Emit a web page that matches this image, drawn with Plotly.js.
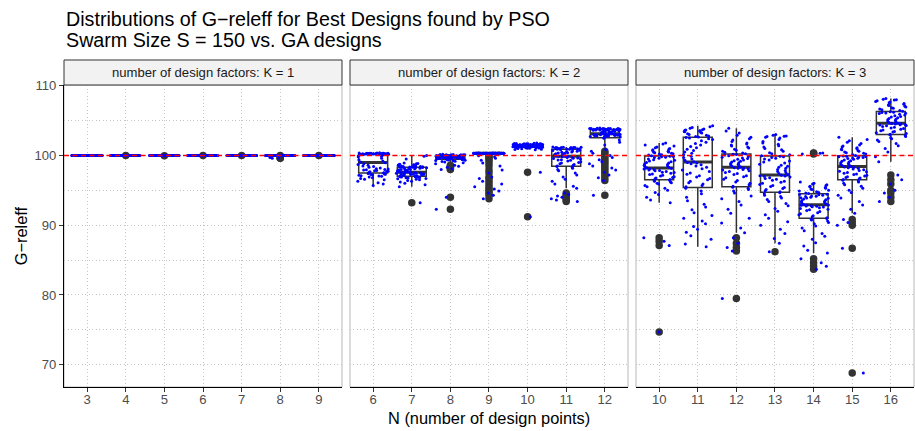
<!DOCTYPE html>
<html><head><meta charset="utf-8">
<script src="https://cdn.plot.ly/plotly-3.0.1.min.js"></script>
<style>html,body{margin:0;padding:0;background:#fff}#chart{width:915px;height:431px}</style>
</head><body><div id="chart"></div>
<script>
// ---------------- data ----------------
const K1_N = [3, 4, 5, 6, 7, 8, 9];
const K2_N = [6, 7, 8, 9, 10, 11, 12];
const K3_N = [10, 11, 12, 13, 14, 15, 16];
const FACET_LABELS = ["number of design factors: K = 1", "number of design factors: K = 2", "number of design factors: K = 3"];
const Y_TICKS = [70, 80, 90, 100, 110];
const REF_VALUE = 100;

// K = 1
const K1_N3 = [100,100,100,100,100,100,100,100,100,100, 100,100,100,100,100,100,100,100,100,100,
  100,100,100,100,100,100,100,100,100,100, 100,100,100,100,100,100,100,100,100,100, 100,100,100,100,100,100,100,100,100,100];
const K1_N4 = [100,100,100,100,100,100,100,100,100,100, 100,100,100,100,100,100,100,100,100,100,
  100,100,100,100,100,100,100,100,100,100, 100,100,100,100,100,100,100,100,100,100, 100,100,100,100,100,100,100,100,100,99.98];
const K1_N5 = [100,100,100,100,100,100,100,100,100,100, 100,100,100,100,100,100,100,100,100,100,
  100,100,100,100,100,100,100,100,100,100, 100,100,100,100,100,100,100,100,100,100, 100,100,100,100,100,100,100,100,100,99.97];
const K1_N6 = [100,100,100,100,100,100,100,100,100,100, 100,100,100,100,100,100,100,100,100,100,
  100,100,100,100,100,100,100,100,100,100, 100,100,100,100,100,100,100,100,100,100, 100,100,100,100,100,100,100,100,100,99.98];
const K1_N7 = [100,100,100,100,100,100,100,100,100,100, 100,100,100,100,100,100,100,100,100,100,
  100,100,100,100,100,100,100,100,100,100, 100,100,100,100,100,100,100,100,100,100, 100,100,100,100,100,100,100,100,100,99.98];
const K1_N8 = [100,100,100,100,100,100,100,100,100,100, 100,100,100,100,100,100,100,100,100,100,
  100,100,100,100,100,100,100,100,100,100, 100,100,100,100,100,100,100,100,100,100, 100,100,100,100,100,100,99.98,99.7,99.62,99.58];
const K1_N9 = [100,100,100,100,100,100,100,100,100,100, 100,100,100,100,100,100,100,100,100,100,
  100,100,100,100,100,100,100,100,100,100, 100,100,100,100,100,100,100,100,100,100, 100,100,100,100,100,100,100,100,100,99.98];

// K = 2
const K2_N6 = [95.7,95.9,96.1,96.3,96.5,96.6,96.7,96.8,96.9,97.0,97.05,97.1,97.15,97.2,97.25,97.3,97.35,97.4,97.45,97.48,
  97.52,97.6,97.65,97.7,97.75,97.8,97.85,97.9,97.95,98.0,98.05,98.1,98.2,98.3,98.4,98.5,98.6,98.7,98.8,98.95,
  99.05,99.2,99.4,99.6,99.8,99.9,100.0,100.05,100.1,100.12,100.14,100.16,100.17,100.18,100.19,100.2,100.2,100.2,100.21,100.22,
  100.22,100.23,100.24,100.25,100.25,100.26,100.27,100.27,100.28,100.28,100.29,100.3,100.3,100.31,100.31,100.32,100.33,100.34,100.35,100.37];
const K2_N7 = [93.2,95.5,95.8,96.0,96.2,96.3,96.4,96.5,96.6,96.65,96.7,96.75,96.8,96.85,96.88,96.9,96.93,96.95,96.97,96.99,
  97.01,97.05,97.1,97.15,97.2,97.22,97.25,97.28,97.3,97.33,97.36,97.4,97.43,97.46,97.5,97.52,97.54,97.56,97.58,97.59,
  97.61,97.65,97.7,97.74,97.78,97.82,97.86,97.9,97.94,97.98,98.0,98.04,98.08,98.12,98.16,98.2,98.23,98.26,98.28,98.3,
  98.31,98.34,98.37,98.4,98.43,98.46,98.5,98.53,98.56,98.6,98.63,98.66,98.7,98.75,98.8,98.85,98.9,99.5,99.9,100.0];
const K2_N8 = [92.3,94.0,98.0,98.1,98.3,98.45,98.6,98.8,98.95,99.05,99.12,99.18,99.24,99.28,99.32,99.36,99.39,99.41,99.43,99.44,
  99.46,99.48,99.5,99.52,99.54,99.56,99.58,99.6,99.62,99.64,99.66,99.67,99.68,99.69,99.7,99.71,99.72,99.73,99.74,99.75,
  99.76,99.77,99.78,99.79,99.8,99.81,99.82,99.83,99.84,99.85,99.86,99.87,99.88,99.89,99.9,99.91,99.92,99.93,99.94,99.95,
  99.96,99.97,99.98,99.99,100.0,100.0,100.01,100.02,100.03,100.04,100.05,100.06,100.07,100.08,100.09,100.1,100.11,100.12,100.14,100.16];
const K2_N9 = [93.8,94.3,94.6,94.9,95.2,95.5,95.9,96.3,96.7,96.9,97.5,97.9,98.5,98.9,99.3,99.6,99.8,99.95,
  100.3,100.3,100.3,100.3,100.3,100.3,100.3,100.3,100.3,100.3,100.3,100.3,100.3,100.3,100.3,100.3,100.3,100.3,100.3,100.3,100.3,100.3,
  100.3,100.3,100.3,100.3,100.3,100.3,100.3,100.3,100.3,100.3,100.3,100.3,100.3,100.3,100.3,100.3,100.3,100.3,100.3,100.3,100.3,
  100.3,100.3,100.3,100.3,100.3,100.3,100.3,100.3,100.3,100.3,100.3,100.3,100.3,100.3,100.3,100.3,100.3,100.3,100.3];
const K2_N10 = [91.2,97.6,100.8,100.85,100.9,100.95,101.0,101.02,101.05,101.08,101.1,101.12,101.14,101.15,101.16,101.17,101.18,101.19,101.2,101.2,
  101.21,101.22,101.23,101.24,101.25,101.26,101.27,101.28,101.29,101.3,101.31,101.32,101.33,101.34,101.35,101.36,101.37,101.38,101.39,101.39,
  101.41,101.42,101.43,101.44,101.45,101.46,101.46,101.47,101.47,101.48,101.48,101.49,101.49,101.5,101.5,101.5,101.51,101.51,101.52,101.52,
  101.53,101.54,101.55,101.56,101.57,101.58,101.59,101.6,101.61,101.62,101.63,101.64,101.65,101.66,101.67,101.68,101.7,101.72,101.75,101.8];
const K2_N11 = [93.4,93.6,93.8,94.0,94.2,94.4,94.6,95.3,95.6,95.9,96.3,96.6,96.9,97.2,97.5,97.8,98.0,98.15,98.3,98.4,
  98.5,98.6,98.7,98.8,98.9,99.0,99.1,99.2,99.3,99.35,99.4,99.5,99.55,99.6,99.65,99.7,99.75,99.8,99.85,99.88,
  99.92,99.96,100.0,100.05,100.1,100.15,100.2,100.25,100.3,100.35,100.4,100.45,100.5,100.55,100.6,100.65,100.7,100.75,100.8,100.88,
  100.9,100.92,100.94,100.96,100.98,101.0,101.02,101.04,101.06,101.08,101.09,101.1,101.11,101.12,101.13,101.14,101.15,101.17,101.19,101.22];
const K2_N12 = [94.3,96.4,96.8,97.2,97.6,97.9,98.2,98.5,98.8,99.1,99.4,99.7,100.0,100.3,100.6,100.85,101.5,101.9,102.2,102.45,
  102.62,102.66,102.7,102.74,102.78,102.8,102.83,102.86,102.88,102.9,102.93,102.96,102.98,103.0,103.02,103.04,103.06,103.07,103.08,103.09,
  103.11,103.13,103.16,103.2,103.24,103.28,103.32,103.36,103.4,103.44,103.48,103.52,103.55,103.58,103.6,103.62,103.64,103.66,103.68,103.7,
  103.71,103.72,103.73,103.74,103.75,103.76,103.77,103.78,103.79,103.8,103.81,103.82,103.83,103.84,103.85,103.86,103.87,103.88,103.9,103.95];

// K = 3
const K3_N10 = [74.7,87.1,87.7,88.2,93.2,93.6,94.0,94.4,94.7,95.0,95.3,95.5,95.7,95.9,96.0,96.1,96.2,96.3,96.4,96.45,
  96.55,96.65,96.75,96.85,96.95,97.05,97.15,97.25,97.35,97.45,97.55,97.6,97.7,97.8,97.85,97.9,98.0,98.05,98.1,98.15,
  98.25,98.3,98.4,98.5,98.6,98.7,98.8,98.9,99.0,99.1,99.2,99.3,99.4,99.5,99.6,99.7,99.75,99.8,99.85,99.9,
  99.97,100.05,100.1,100.2,100.25,100.3,100.4,100.45,100.5,100.6,100.7,100.8,100.9,101.0,101.1,101.2,101.35,101.5,101.65,101.8];
const K3_N11 = [86.9,87.3,88.0,88.5,89.0,89.4,89.8,90.2,90.6,91.0,91.4,91.8,92.2,92.6,93.0,93.5,94.0,94.5,94.9,95.3,
  95.5,95.7,95.9,96.1,96.3,96.5,96.7,96.9,97.1,97.3,97.5,97.7,97.9,98.1,98.3,98.5,98.65,98.8,98.9,99.0,
  99.1,99.3,99.5,99.7,99.9,100.1,100.3,100.5,100.7,100.9,101.1,101.3,101.5,101.7,101.9,102.1,102.3,102.4,102.5,102.58,
  102.65,102.7,102.8,102.9,103.0,103.1,103.2,103.3,103.4,103.45,103.5,103.55,103.6,103.65,103.7,103.8,103.9,104.0,104.1,104.25];
const K3_N12 = [79.5,86.3,86.8,87.4,88.2,88.9,89.6,90.3,91.0,91.7,92.3,92.9,93.4,93.8,94.2,94.6,94.9,95.1,95.3,95.45,
  95.6,95.8,96.0,96.2,96.4,96.6,96.8,96.95,97.1,97.25,97.4,97.55,97.7,97.8,97.9,98.0,98.1,98.15,98.2,98.25,
  98.35,98.45,98.55,98.65,98.75,98.85,98.95,99.05,99.15,99.25,99.35,99.45,99.55,99.65,99.75,99.85,99.95,100.05,100.12,100.18,
  100.25,100.35,100.45,100.6,100.75,100.9,101.05,101.2,101.35,101.5,101.65,101.8,102.0,102.2,102.4,102.6,102.9,103.2,103.5,103.9];
const K3_N13 = [86.2,87.4,88.1,88.8,89.4,90.0,90.5,91.0,91.5,92.0,92.4,92.8,93.1,93.4,93.7,93.9,94.1,94.3,94.5,94.65,
  94.8,94.95,95.1,95.25,95.4,95.55,95.7,95.85,96.0,96.15,96.3,96.45,96.6,96.7,96.8,96.9,97.0,97.05,97.1,97.15,
  97.25,97.4,97.55,97.7,97.85,98.0,98.15,98.3,98.45,98.6,98.75,98.9,99.05,99.2,99.35,99.5,99.6,99.7,99.8,99.88,
  99.95,100.1,100.25,100.4,100.6,100.8,101.0,101.2,101.4,101.6,101.8,102.0,102.3,102.5,102.6,102.7,102.75,102.8,102.9,103.0];
const K3_N14 = [83.7,84.1,84.6,85.2,86.0,86.4,87.0,87.5,88.0,88.4,88.8,89.2,89.6,89.9,90.2,90.4,90.6,90.75,90.85,90.95,
  91.05,91.2,91.35,91.5,91.65,91.8,91.95,92.1,92.2,92.3,92.4,92.5,92.6,92.65,92.7,92.75,92.8,92.85,92.88,92.9,
  92.95,93.05,93.15,93.25,93.35,93.45,93.55,93.65,93.75,93.85,93.9,93.95,94.0,94.1,94.15,94.2,94.3,94.35,94.4,94.45,
  94.55,94.6,94.7,94.8,94.9,95.0,95.1,95.2,95.3,95.4,95.5,95.6,95.7,95.8,95.9,96.0,96.2,100.2,100.3,100.35];
const K3_N15 = [68.8,86.7,90.0,90.4,90.8,91.7,92.3,92.9,93.4,93.9,94.3,94.7,95.0,95.3,95.6,95.8,96.0,96.2,96.35,96.45,
  96.55,96.65,96.75,96.85,96.95,97.05,97.15,97.25,97.35,97.45,97.55,97.65,97.75,97.85,97.95,98.05,98.15,98.25,98.3,98.35,
  98.45,98.55,98.65,98.75,98.85,98.95,99.05,99.15,99.25,99.35,99.45,99.55,99.6,99.65,99.7,99.75,99.8,99.85,99.9,99.93,
  99.98,100.1,100.2,100.3,100.4,100.5,100.6,100.7,100.8,100.9,101.0,101.1,101.2,101.35,101.5,101.7,101.9,102.1,102.3,102.6];
const K3_N16 = [93.4,94.0,94.6,95.0,95.9,96.5,97.2,99.1,99.8,100.5,101.0,101.4,101.7,102.0,102.2,102.4,102.55,102.7,102.85,102.95,
  103.05,103.15,103.25,103.35,103.45,103.55,103.65,103.75,103.85,103.95,104.05,104.15,104.25,104.3,104.35,104.4,104.45,104.5,104.55,104.58,
  104.62,104.7,104.8,104.9,105.0,105.1,105.2,105.3,105.4,105.5,105.6,105.7,105.8,105.9,106.0,106.05,106.1,106.15,106.2,106.25,
  106.35,106.45,106.55,106.65,106.75,106.85,106.95,107.05,107.15,107.25,107.35,107.45,107.55,107.65,107.75,107.85,107.95,108.0,108.05,108.15];

const FACETS = [
  {N: K1_N, groups: [K1_N3, K1_N4, K1_N5, K1_N6, K1_N7, K1_N8, K1_N9]},
  {N: K2_N, groups: [K2_N6, K2_N7, K2_N8, K2_N9, K2_N10, K2_N11, K2_N12]},
  {N: K3_N, groups: [K3_N10, K3_N11, K3_N12, K3_N13, K3_N14, K3_N15, K3_N16]}
];

// ---------------- helpers ----------------
function quantile(arr, p) {
  const s = arr.slice().sort((a, b) => a - b);
  const h = (s.length - 1) * p, lo = Math.floor(h);
  const hi = Math.min(lo + 1, s.length - 1);
  return s[lo] + (h - lo) * (s[hi] - s[lo]);
}
// deterministic horizontal jitter (like geom_jitter, width 0.4 each side),
// from a quadratic Weyl sequence - positions only, never data values
const JITTER_HALF_WIDTH = 0.4;
function jitterOffset(k, j) {
  const u = (0.5 + k * k * 0.7548776662 + k * 0.5698402910 + j * 0.2718281828) % 1;
  return (u - 0.5) * 2 * JITTER_HALF_WIDTH;
}

const FONT = 'Liberation Sans, Arial, Helvetica, sans-serif';
const GRID = '#C4C4C4';
const GRIDDASH = '1px,2.5px';
const DOMAINS = [[0, 0.32706], [0.33647, 0.66353], [0.67294, 1]];

const traces = [];
const shapes = [];
const annotations = [];
const layout = {
  width: 915, height: 431,
  margin: {l: 64, r: 1, t: 85, b: 44, pad: 0},
  paper_bgcolor: '#ffffff', plot_bgcolor: '#ffffff',
  font: {family: FONT, color: '#000000'},
  showlegend: false,
  boxmode: 'overlay',
  hovermode: false
};

FACETS.forEach((f, i) => {
  const s = i === 0 ? '' : String(i + 1);
  const xa = 'x' + s, ya = 'y' + s;
  const xs = [], ys = [], jx = [];
  f.groups.forEach((g, j) => g.forEach((v, k) => {
    xs.push(f.N[j]); ys.push(v); jx.push(f.N[j] + jitterOffset(k, j));
  }));
  const meds = f.groups.map(g => quantile(g, 0.5));

  // box with outliers
  traces.push({
    type: 'box', x: xs, y: ys, xaxis: xa, yaxis: ya,
    width: 0.75, boxpoints: 'outliers', jitter: 0, pointpos: 0,
    fillcolor: '#ffffff', line: {color: '#333333', width: 1.5}, whiskerwidth: 0,
    marker: {color: '#333333', size: 7.5, line: {width: 0}}, hoverinfo: 'skip'
  });
  // thick median line
  traces.push({
    type: 'box', x: f.N, q1: meds, median: meds, q3: meds, lowerfence: meds, upperfence: meds,
    xaxis: xa, yaxis: ya, width: 0.75, boxpoints: false,
    fillcolor: 'rgba(0,0,0,0)', line: {color: '#333333', width: 3}, hoverinfo: 'skip'
  });
  // jittered points
  traces.push({
    type: 'scatter', mode: 'markers', x: jx, y: ys, xaxis: xa, yaxis: ya,
    marker: {color: '#0000FF', size: 3, line: {width: 0}}, hoverinfo: 'skip', cliponaxis: true
  });

  const nMin = Math.min(...f.N), nMax = Math.max(...f.N);
  layout['xaxis' + s] = {
    domain: DOMAINS[i], anchor: ya, range: [nMin - 0.6, nMax + 0.6],
    tickmode: 'array', tickvals: f.N, ticktext: f.N.map(String),
    ticks: 'outside', ticklen: 4, tickwidth: 1, tickcolor: '#333333', ticklabelstandoff: -4,
    tickfont: {family: FONT, size: 13.1, color: '#4D4D4D'},
    showline: true, linecolor: '#000000', linewidth: 1,
    showgrid: true, gridcolor: GRID, griddash: GRIDDASH, gridwidth: 1, zeroline: false
  };
  const yax = {
    domain: [0, 1], anchor: xa, range: [66.8, 110.1],
    tickmode: 'array', tickvals: Y_TICKS,
    showgrid: true, gridcolor: GRID, griddash: GRIDDASH, gridwidth: 1, zeroline: false,
    minor: {dtick: 5, tick0: 0, showgrid: true, gridcolor: GRID, griddash: GRIDDASH, gridwidth: 1}
  };
  if (i === 0) {
    Object.assign(yax, {
      ticks: 'outside', ticklen: 4, tickwidth: 1, tickcolor: '#333333',
      tickfont: {family: FONT, size: 13.1, color: '#4D4D4D'},
      showline: true, linecolor: '#000000', linewidth: 1
    });
  } else {
    Object.assign(yax, {matches: 'y', showticklabels: false, ticks: '', showline: false});
  }
  layout['yaxis' + s] = yax;

  // panel border
  shapes.push({type: 'rect', xref: xa + ' domain', yref: ya + ' domain', x0: 0, x1: 1, y0: 0, y1: 1,
    line: {color: '#B8B8B8', width: 1}, fillcolor: 'rgba(0,0,0,0)', layer: 'below'});
  // reference line
  shapes.push({type: 'line', xref: xa + ' domain', yref: ya, x0: 0, x1: 1, y0: REF_VALUE, y1: REF_VALUE,
    line: {color: '#FF0000', width: 1.4, dash: '5px,3.5px'}, layer: 'above'});
  // strip
  shapes.push({type: 'rect', xref: xa + ' domain', yref: 'paper', x0: 0, x1: 1, y0: 1, y1: 1.0828,
    line: {color: '#333333', width: 1}, fillcolor: '#F2F2F2', layer: 'above'});
  annotations.push({xref: 'paper', yref: 'paper', x: (DOMAINS[i][0] + DOMAINS[i][1]) / 2, y: 1.0414,
    xanchor: 'center', yanchor: 'middle', showarrow: false, text: FACET_LABELS[i],
    font: {family: FONT, size: 13.1, color: '#1A1A1A'}});
});

annotations.push({xref: 'paper', yref: 'paper', x: 0, y: 1.2182, xanchor: 'left', yanchor: 'middle', showarrow: false,
  text: 'Distributions of G\u2212releff for Best Designs found by PSO', font: {family: FONT, size: 19.7, color: '#000000'}});
annotations.push({xref: 'paper', yref: 'paper', x: 0, y: 1.1497, xanchor: 'left', yanchor: 'middle', showarrow: false,
  text: 'Swarm Size S = 150 vs. GA designs', font: {family: FONT, size: 19.7, color: '#000000'}});
annotations.push({xref: 'paper', yref: 'paper', x: 0.5, y: -0.104, xanchor: 'center', yanchor: 'middle', showarrow: false,
  text: 'N (number of design points)', font: {family: FONT, size: 16.4, color: '#000000'}});
annotations.push({xref: 'paper', yref: 'paper', x: -0.0502, y: 0.5, xanchor: 'center', yanchor: 'middle', showarrow: false,
  textangle: -90, text: 'G\u2212releff', font: {family: FONT, size: 16.4, color: '#000000'}});

layout.shapes = shapes;
layout.annotations = annotations;

Plotly.newPlot('chart', traces, layout, {displayModeBar: false, staticPlot: true});
</script>
</body></html>
